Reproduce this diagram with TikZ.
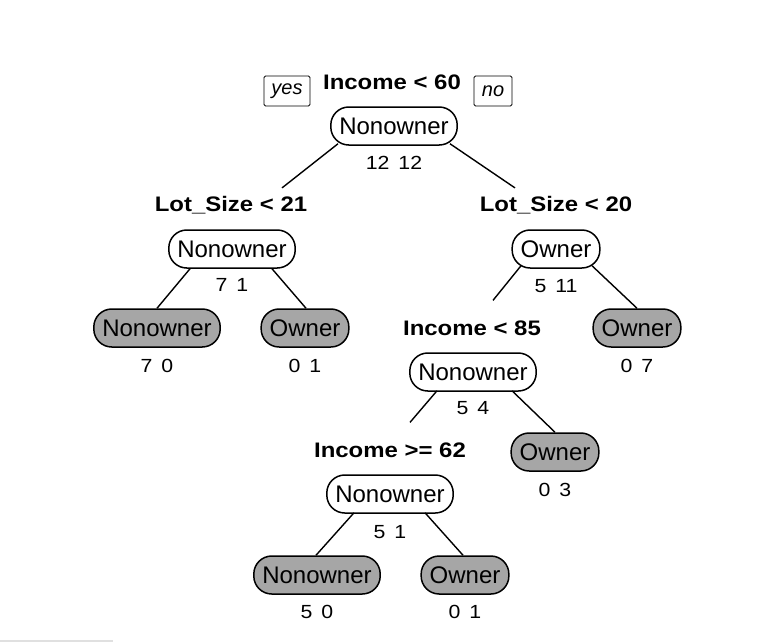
\documentclass[tikz,border=0pt]{standalone}
\usepackage{fontspec}
\setmainfont{Liberation Sans}
\usepackage{graphicx}
\usetikzlibrary{calc}
\definecolor{leafgray}{HTML}{A6A6A6}
\tikzset{
  tnode/.style={draw, line width=1.5pt, rounded corners=18pt, fill=white,
    minimum height=38pt, inner xsep=8.5pt, inner ysep=0pt,
    font=\fontsize{24}{27}\selectfont},
  leaf/.style={tnode, fill=leafgray},
  lbl/.style={inner sep=0pt, font=\fontsize{21}{24}\selectfont\bfseries},
  cnt/.style={inner sep=0pt, font=\fontsize{19}{22}\selectfont},
  yn/.style={draw, line width=0.9pt, rounded corners=1.5pt, minimum width=46pt,
    minimum height=30pt, inner sep=2pt, font=\fontsize{20}{22}\selectfont\itshape},
  edge/.style={line width=1.4pt}
}
\newcommand{\wide}[1]{\scalebox{1.14}[1]{#1}}
\newcommand{\nums}[2]{\scalebox{1.12}[1]{#1\hspace{0.42em}#2}}
\begin{document}
\begin{tikzpicture}[x=1pt,y=-1pt]
\useasboundingbox (0,0) rectangle (783,643);
\fill[white] (0,0) rectangle (783,643);
\draw[black!12, line width=2pt] (0,641) -- (113,641);

% root
\node[lbl] (l0) at (392,82) {\wide{Income < 60}};
\node[yn] (yes) at (287,91) {yes};
\node[yn, minimum width=38pt] (no) at (493,91) {no};
\node[tnode] (n0) at (394,126) {Nonowner};
\node[cnt] (c0) at (394,163) {\nums{12}{12}};

% left level 1
\node[lbl] (l1) at (231,205) {\wide{Lot\_Size < 21}};
\node[tnode] (n1) at (232,249) {Nonowner};
\node[cnt] (c1) at (232,285) {\nums{7}{1}};

% right level 1
\node[lbl] (l2) at (556,205) {\wide{Lot\_Size < 20}};
\node[tnode] (n2) at (556,249) {Owner};
\node[cnt] (c2) at (556,286) {\nums{5}{11}};

% leaves of left level 1
\node[leaf] (n3) at (157,328) {Nonowner};
\node[cnt] (c3) at (157,366) {\nums{7}{0}};
\node[leaf] (n4) at (305,328) {Owner};
\node[cnt] (c4) at (305,366) {\nums{0}{1}};

% right leaf
\node[leaf] (n5) at (637,328) {Owner};
\node[cnt] (c5) at (637,366) {\nums{0}{7}};

% Income < 85
\node[lbl] (l6) at (472,328) {\wide{Income < 85}};
\node[tnode] (n6) at (473,372) {Nonowner};
\node[cnt] (c6) at (473,408) {\nums{5}{4}};

\node[leaf] (n7) at (555,452) {Owner};
\node[cnt] (c7) at (555,490) {\nums{0}{3}};

% Income >= 62
\node[lbl] (l8) at (390,450) {\wide{Income >= 62}};
\node[tnode] (n8) at (390,494) {Nonowner};
\node[cnt] (c8) at (390,532) {\nums{5}{1}};

\node[leaf] (n9) at (317,575) {Nonowner};
\node[cnt] (c9) at (317,612) {\nums{5}{0}};
\node[leaf] (n10) at (465,575) {Owner};
\node[cnt] (c10) at (465,612) {\nums{0}{1}};

% edges
\draw[edge] ($(n0.south)+(-56,-2)$) -- ($(l1.north)+(51,-8)$);
\draw[edge] ($(n0.south)+(56,-2)$) -- ($(l2.north)+(-41,-8)$);
\draw[edge] ($(n1.south)+(-42,0)$) -- ($(n3.north)+(0,0)$);
\draw[edge] ($(n1.south)+(40,0)$) -- ($(n4.north)+(1,0)$);
\draw[edge] ($(n2.south)+(-35,-3)$) -- ($(l6.north)+(21,-20)$);
\draw[edge] ($(n2.south)+(36,-3)$) -- ($(n5.north)+(0,0)$);
\draw[edge] ($(n6.south)+(-36,-1)$) -- ($(l8.north)+(20,-20)$);
\draw[edge] ($(n6.south)+(39,-1)$) -- ($(n7.north)+(0,0)$);
\draw[edge] ($(n8.south)+(-36,-1)$) -- ($(n9.north)+(-1,0)$);
\draw[edge] ($(n8.south)+(35,-1)$) -- ($(n10.north)+(-2,0)$);
\end{tikzpicture}
\end{document}
